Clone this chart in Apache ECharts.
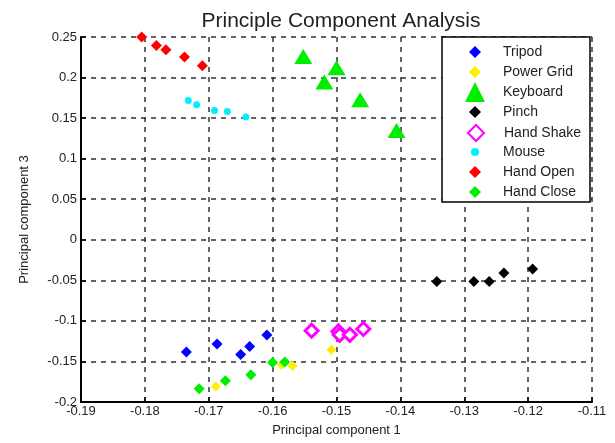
<!DOCTYPE html>
<html>
<head>
<meta charset="utf-8">
<script src="https://cdn.jsdelivr.net/npm/echarts@6/dist/echarts.min.js"></script>
<style>html,body{margin:0;padding:0;background:#fff;}#c{width:615px;height:443px;}</style>
</head>
<body>
<div id="c"></div>
<script>
const seriesNames = ['Tripod','Power Grid','Keyboard','Pinch','Hand Shake','Mouse','Hand Open','Hand Close'];
const tripod = [[-0.1735,-0.1384],[-0.1687,-0.1285],[-0.1650,-0.1414],[-0.1636,-0.1315],[-0.1609,-0.1175]];
const powerGrid = [[-0.1689,-0.1808],[-0.1586,-0.1541],[-0.1569,-0.1553],[-0.1508,-0.1356]];
const keyboard = [[-0.1552,0.2261],[-0.1500,0.2121],[-0.1519,0.1945],[-0.1463,0.1727],[-0.1406,0.1348]];
const pinch = [[-0.1343,-0.0514],[-0.1285,-0.0514],[-0.1261,-0.0514],[-0.1238,-0.0410],[-0.1193,-0.0361]];
const handShake = [[-0.1539,-0.1121],[-0.1497,-0.1130],[-0.1495,-0.1171],[-0.1479,-0.1171],[-0.1458,-0.1100]];
const mouse = [[-0.1732,0.1718],[-0.1719,0.1665],[-0.1691,0.1595],[-0.1671,0.1583],[-0.1642,0.1514]];
const handOpen = [[-0.1805,0.2500],[-0.1782,0.2396],[-0.1767,0.2343],[-0.1738,0.2253],[-0.1710,0.2146]];
const handClose = [[-0.1715,-0.1837],[-0.1674,-0.1738],[-0.1634,-0.1664],[-0.1600,-0.1512],[-0.1581,-0.1507]];
const xTickLabels = ['-0.19','-0.18','-0.17','-0.16','-0.15','-0.14','-0.13','-0.12','-0.11'];
const yTickLabels = ['-0.2','-0.15','-0.1','-0.05','0','0.05','0.1','0.15','0.2','0.25'];

const font = 'Liberation Sans, Arial, sans-serif';
const chart = echarts.init(document.getElementById('c'), null, {renderer:'canvas'});

function sc(name, data, symbol, size, color, extra) {
  return Object.assign({
    name: name, type: 'scatter', data: data, symbol: symbol, symbolSize: size,
    itemStyle: {color: color, opacity: 1},
    emphasis: {disabled: true}
  }, extra || {});
}

const gridLine = {show: true, lineStyle: {color: '#333', width: 1.5, type: [5, 5]}};

// legend layout (one legend per entry so each icon can have its own size)
const legendIconSizes = [12, 12, 20, 12, 16, 8, 12, 12];
const legendBox = {x: 442, y: 37, w: 148, h: 165};
const iconCenterX = 475, textStartX = 503;
const legends = seriesNames.map((n, i) => {
  const h = legendIconSizes[i];
  const rowH = Math.max(h, 14);
  const left = Math.round(iconCenterX - h / 2);
  return {
    orient: 'vertical', data: [n],
    left: left, top: Math.round(52 + 20 * i - rowH / 2),
    padding: 0, itemWidth: h, itemHeight: h, itemGap: 0, z: 5,
    textStyle: {fontFamily: font, fontSize: 14, lineHeight: 14, color: '#222',
      padding: [0, 0, 0, textStartX - (left + h + 5)]},
    selectedMode: false
  };
});

chart.setOption({
  animation: false,
  backgroundColor: '#fff',
  title: {
    text: 'Principle Component Analysis', left: 336, top: 6, textAlign: 'center',
    textStyle: {fontFamily: font, fontSize: 21, fontWeight: 'normal', color: '#222'}
  },
  grid: {left: 81, right: 23, top: 37, bottom: 41},
  xAxis: {
    type: 'value', min: -0.19, max: -0.11, interval: 0.01,
    name: 'Principal component 1', nameLocation: 'middle', nameGap: 22,
    nameTextStyle: {fontFamily: font, fontSize: 13, color: '#222'},
    axisLine: {show: true, onZero: false, lineStyle: {color: '#000', width: 2}},
    axisTick: {show: true, inside: true, length: 5, lineStyle: {color: '#000', width: 1.5}},
    axisLabel: {fontFamily: font, fontSize: 13, color: '#222', margin: 3,
      formatter: v => xTickLabels[Math.round((v + 0.19) / 0.01)]},
    splitLine: gridLine
  },
  yAxis: {
    type: 'value', min: -0.2, max: 0.25, interval: 0.05,
    name: 'Principal component 3', nameLocation: 'middle', nameGap: 50,
    nameTextStyle: {fontFamily: font, fontSize: 13, color: '#222'},
    axisLine: {show: true, onZero: false, lineStyle: {color: '#000', width: 2}},
    axisTick: {show: true, inside: true, length: 5, lineStyle: {color: '#000', width: 1.5}},
    axisLabel: {fontFamily: font, fontSize: 13, color: '#222', margin: 4,
      formatter: v => yTickLabels[Math.round((v + 0.2) / 0.05)]},
    splitLine: gridLine
  },
  graphic: [{
    type: 'rect', z: 3, silent: true,
    shape: {x: legendBox.x, y: legendBox.y, width: legendBox.w, height: legendBox.h},
    style: {fill: '#fff', stroke: '#000', lineWidth: 1.5}
  }],
  legend: legends,
  series: [
    sc(seriesNames[0], tripod, 'diamond', 11, '#0000ff'),
    sc(seriesNames[1], powerGrid, 'diamond', 10, '#ffee00'),
    sc(seriesNames[2], keyboard, 'triangle', [18, 15], '#00ee00'),
    sc(seriesNames[3], pinch, 'diamond', 11, '#000000'),
    sc(seriesNames[4], handShake, 'diamond', 13, '#ffffff', {itemStyle: {color: '#ffffff', borderColor: '#ff00ff', borderWidth: 3, opacity: 1}}),
    sc(seriesNames[5], mouse, 'circle', 7, '#00eeff'),
    sc(seriesNames[6], handOpen, 'diamond', 11, '#ff0000'),
    sc(seriesNames[7], handClose, 'diamond', 11, '#00ee00')
  ]
});
</script>
</body>
</html>
